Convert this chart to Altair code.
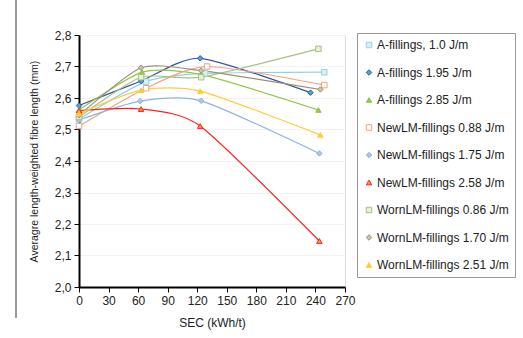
import altair as alt
import pandas as pd

series_names = [
    "A-fillings, 1.0 J/m",
    "A-fillings 1.95 J/m",
    "A-fillings 2.85 J/m",
    "NewLM-fillings 0.88 J/m",
    "NewLM-fillings 1.75 J/m",
    "NewLM-fillings 2.58 J/m",
    "WornLM-fillings 0.86 J/m",
    "WornLM-fillings 1.70 J/m",
    "WornLM-fillings 2.51 J/m",
]

sec_a10 = [0, 68, 128, 249]
fib_a10 = [2.533, 2.652, 2.678, 2.682]
sec_a195 = [0, 63, 123, 235]
fib_a195 = [2.576, 2.654, 2.726, 2.617]
sec_a285 = [0, 64, 124, 243]
fib_a285 = [2.562, 2.682, 2.675, 2.562]
sec_n088 = [0, 68, 130, 249]
fib_n088 = [2.511, 2.631, 2.700, 2.641]
sec_n175 = [0, 62, 124, 244]
fib_n175 = [2.530, 2.590, 2.591, 2.424]
sec_n258 = [0, 63, 123, 244]
fib_n258 = [2.560, 2.565, 2.511, 2.146]
sec_w086 = [0, 63, 124, 243]
fib_w086 = [2.540, 2.666, 2.666, 2.756]
sec_w170 = [0, 63, 124, 245]
fib_w170 = [2.545, 2.696, 2.687, 2.627]
sec_w251 = [0, 63, 123, 245]
fib_w251 = [2.551, 2.625, 2.622, 2.483]

x_ticks = [0, 30, 60, 90, 120, 150, 180, 210, 240, 270]
y_ticks = [2.0, 2.1, 2.2, 2.3, 2.4, 2.5, 2.6, 2.7, 2.8]

all_x = [sec_a10, sec_a195, sec_a285, sec_n088, sec_n175, sec_n258, sec_w086, sec_w170, sec_w251]
all_y = [fib_a10, fib_a195, fib_a285, fib_n088, fib_n175, fib_n258, fib_w086, fib_w170, fib_w251]

rows = []
for name, xs, ys in zip(series_names, all_x, all_y):
    for xv, yv in zip(xs, ys):
        rows.append({"series": name, "sec": xv, "fib": yv})
df = pd.DataFrame(rows)

line_colors = ["#93D2E6", "#3552A6", "#92C846", "#F4A07A", "#8DB3E2",
               "#FF2020", "#A9BF86", "#9B9070", "#FFCC40"]
fill_colors = ["#DCEFF6", "#4AA6DA", "#92C846", "#FFFFFF", "#A9C6EC",
               "#FF9933", "#E8EFDC", "#CBC3AA", "#FFCC33"]
shapes = ["square", "diamond", "triangle-up", "square", "diamond",
          "triangle-up", "square", "diamond", "triangle-up"]

FONT = "Liberation Sans"

x_axis = alt.Axis(values=x_ticks, grid=False, labelOverlap=False, labelFlush=False,
                  domainColor="black", domainWidth=2, tickColor="black",
                  tickSize=5, labelPadding=3, labelFontSize=12,
                  titleFontSize=12, titleFontWeight="normal",
                  labelColor="#222", titleColor="#222",
                  titleBaseline="middle", titleY=35)
y_axis = alt.Axis(values=y_ticks,
                  labelExpr="replace(format(datum.value, '.1f'), '.', ',')",
                  labelOverlap=False, labelFlush=False,
                  grid=True, gridColor="#F2F2F2", gridWidth=1,
                  domainColor="black", domainWidth=2, tickColor="black",
                  tickSize=5, labelPadding=3, labelFontSize=12,
                  titleFontSize=10.5, titleFontWeight="normal",
                  labelColor="#222", titleColor="#222", titleX=-40)

x_enc = alt.X("sec:Q", title="SEC (kWh/t)",
              scale=alt.Scale(domain=[0, 270], nice=False), axis=x_axis)
y_enc = alt.Y("fib:Q", title="Averagre length-weighted fibre length (mm)",
              scale=alt.Scale(domain=[2.0, 2.8], nice=False, zero=False), axis=y_axis)

stroke_scale = alt.Scale(domain=series_names, range=line_colors)
fill_scale = alt.Scale(domain=series_names, range=fill_colors)
shape_scale = alt.Scale(domain=series_names, range=shapes)

legend = alt.Legend(title=None, orient="none", legendX=278, legendY=-2,
                    labelFont=FONT, labelFontSize=12, labelColor="#222",
                    labelLimit=300, rowPadding=15.5, symbolSize=30,
                    symbolStrokeWidth=1, strokeColor="#999", padding=6,
                    labelOffset=2, fillColor="white")

lines = alt.Chart(df).mark_line(interpolate="cardinal", tension=0.35, strokeWidth=1.2).encode(
    x=x_enc, y=y_enc,
    stroke=alt.Stroke("series:N", scale=stroke_scale, sort=series_names, legend=legend),
    detail="series:N",
)
points = alt.Chart(df).mark_point(filled=False, size=30, strokeWidth=1, opacity=1).encode(
    x=x_enc, y=y_enc,
    stroke=alt.Stroke("series:N", scale=stroke_scale, sort=series_names, legend=legend),
    fill=alt.Fill("series:N", scale=fill_scale, sort=series_names, legend=legend),
    shape=alt.Shape("series:N", scale=shape_scale, sort=series_names, legend=legend),
)
frame = alt.Chart(df).mark_rule(color="#999", strokeWidth=1).encode(
    x=alt.value(-63), y=alt.value(-35), y2=alt.value(283))

chart = alt.layer(lines, points, frame).properties(
    width=266, height=252,
    autosize=alt.AutoSizeParams(type="none"),
    padding={"left": 79, "top": 35, "right": 178, "bottom": 51},
).configure_view(stroke=None).configure(font=FONT, background="white")

chart.save("out.html", embed_options={"renderer": "svg", "actions": False})
